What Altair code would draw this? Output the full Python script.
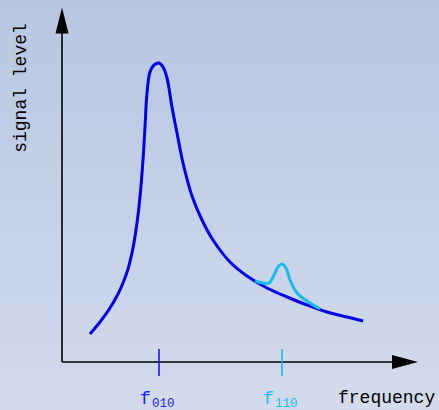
import altair as alt
import pandas as pd

# ---- data (arbitrary units: frequency, signal level) ----
main_freq = [28, 38, 48, 56, 61, 66, 71, 75, 78, 81, 83, 85, 88, 92, 97, 101, 105, 110, 115, 121, 130, 140, 151, 168, 185, 205, 225, 245, 265, 285, 301]
main_level = [28, 40, 54, 68, 79, 93, 114, 139, 165, 202, 235, 269, 290, 297, 299, 295, 284, 255, 229, 199, 166, 142, 122, 100, 86, 74, 65, 57, 50, 45, 41]

mode_freq = [193, 201, 207, 212, 216, 220, 224, 228, 235, 245, 258]
mode_level = [81, 79, 79, 87, 95, 98, 94, 82, 69, 61, 53]

tick_freq = [97, 220]
tick_main = ["f", "f"]
tick_sub = ["010", "110"]
tick_color = ["#1a1aff", "#14bdf0"]

x_label = "frequency"
y_label = "signal level"

W, H = 439, 410
xdom = [-62, 377]
ydom = [-48, 362]
x_end, x_tip = 330, 356
y_end, y_tip = 329, 354

xs = alt.Scale(domain=xdom, nice=False, zero=False)
ys = alt.Scale(domain=ydom, nice=False, zero=False)
MONO = "Liberation Mono"

main_df = pd.DataFrame({"f": main_freq, "L": main_level})
mode_df = pd.DataFrame({"f": mode_freq, "L": mode_level})
ticks_df = pd.DataFrame({"f": tick_freq, "m": tick_main, "s": tick_sub, "c": tick_color})

one = pd.DataFrame({"a": [0]})

bg = alt.Chart(one).mark_rect(
    fill=alt.Gradient(
        gradient="linear",
        stops=[alt.GradientStop(color="#b8c6e2", offset=0),
               alt.GradientStop(color="#d3dbec", offset=1)],
        x1=0, x2=0, y1=0, y2=1,
    )
).encode(x=alt.value(0), x2=alt.value(W), y=alt.value(0), y2=alt.value(H))

axes_df = pd.DataFrame({
    "x1": [0, 0], "x2": [x_end, 0], "y1": [0, 0], "y2": [0, y_end]
})
axes = alt.Chart(axes_df).mark_rule(color="black", strokeWidth=1.6).encode(
    x=alt.X("x1:Q", scale=xs, axis=None),
    x2="x2:Q",
    y=alt.Y("y1:Q", scale=ys, axis=None),
    y2="y2:Q",
)

arrow_x = alt.Chart(pd.DataFrame({"x": [(x_end + x_tip) / 2], "y": [0]})).mark_point(
    shape="M1,0L-1,-0.54L-1,0.54Z", size=676, filled=True, color="black", opacity=1, strokeWidth=0
).encode(x=alt.X("x:Q", scale=xs, axis=None), y=alt.Y("y:Q", scale=ys, axis=None))

arrow_y = alt.Chart(pd.DataFrame({"x": [0], "y": [(y_end + y_tip) / 2]})).mark_point(
    shape="M0,-1L0.5,1L-0.5,1Z", size=676, filled=True, color="black", opacity=1, strokeWidth=0
).encode(x=alt.X("x:Q", scale=xs, axis=None), y=alt.Y("y:Q", scale=ys, axis=None))

main_line = alt.Chart(main_df).mark_line(
    color="#0000ee", strokeWidth=3, interpolate="catmull-rom", strokeCap="butt"
).encode(x=alt.X("f:Q", scale=xs, axis=None), y=alt.Y("L:Q", scale=ys, axis=None))

mode_line = alt.Chart(mode_df).mark_line(
    color="#14bdf0", strokeWidth=3, interpolate="catmull-rom"
).encode(x=alt.X("f:Q", scale=xs, axis=None), y=alt.Y("L:Q", scale=ys, axis=None))

ticks = alt.Chart(ticks_df).mark_rule(strokeWidth=1.6).encode(
    x=alt.X("f:Q", scale=xs, axis=None),
    y=alt.value(349), y2=alt.value(376),
    color=alt.Color("c:N", scale=None, legend=None),
)

lab_main = alt.Chart(ticks_df).mark_text(
    font=MONO, fontSize=18, align="left", baseline="alphabetic", dx=-19
).encode(
    x=alt.X("f:Q", scale=xs, axis=None), y=alt.value(404),
    text="m:N", color=alt.Color("c:N", scale=None, legend=None),
)
lab_sub = alt.Chart(ticks_df).mark_text(
    font=MONO, fontSize=12.5, align="left", baseline="alphabetic", dx=-7
).encode(
    x=alt.X("f:Q", scale=xs, axis=None), y=alt.value(407),
    text="s:N", color=alt.Color("c:N", scale=None, legend=None),
)

xlab = alt.Chart(one).mark_text(
    font=MONO, fontSize=18, align="left", baseline="alphabetic", color="black", text=x_label
).encode(x=alt.value(338), y=alt.value(403))

ylab = alt.Chart(one).mark_text(
    font=MONO, fontSize=18, align="center", baseline="middle", angle=270, color="black", text=y_label
).encode(x=alt.value(21), y=alt.value(88))

chart = alt.layer(
    bg, axes, arrow_x, arrow_y, main_line, mode_line, ticks, lab_main, lab_sub, xlab, ylab
).properties(
    width=W, height=H, padding=0, autosize=alt.AutoSizeParams(type="none")
).configure_view(stroke=None)

chart.save("out.html", embed_options={"renderer": "svg", "actions": False})
